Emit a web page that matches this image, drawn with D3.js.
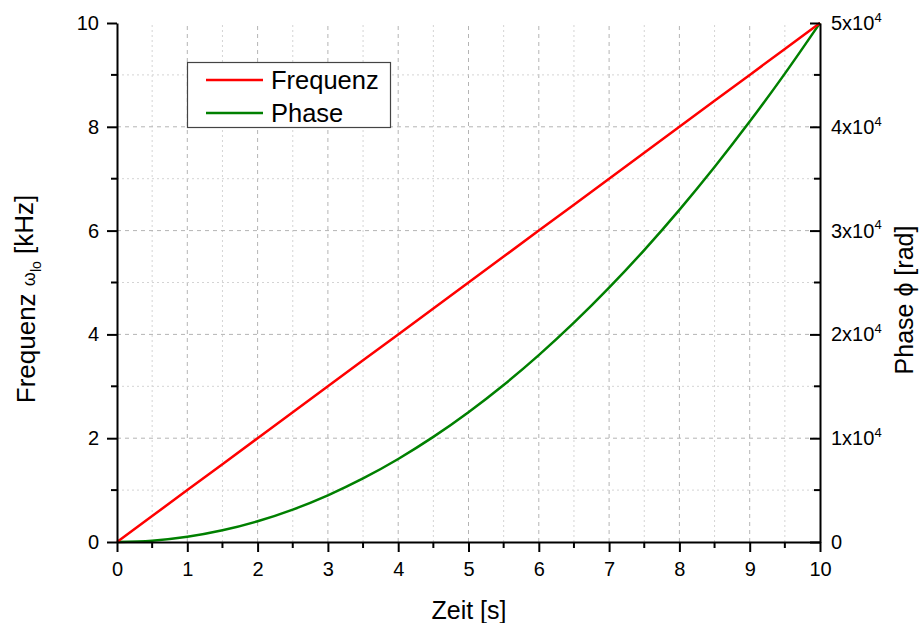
<!DOCTYPE html>
<html><head><meta charset="utf-8">
<script src="https://cdn.jsdelivr.net/npm/d3@7"></script>
<style>body{margin:0;background:#fff}svg{font-family:"Liberation Sans",Arial,sans-serif}</style>
</head><body><svg id="c" width="920" height="623"></svg>
<script>
const time = [0,0.5,1,1.5,2,2.5,3,3.5,4,4.5,5,5.5,6,6.5,7,7.5,8,8.5,9,9.5,10];
const frequenz = [0,0.5,1,1.5,2,2.5,3,3.5,4,4.5,5,5.5,6,6.5,7,7.5,8,8.5,9,9.5,10];
const phase = [0,125,500,1125,2000,3125,4500,6125,8000,10125,12500,15125,18000,21125,24500,28125,32000,36125,40500,45125,50000];
const xTicks = [0,1,2,3,4,5,6,7,8,9,10];
const yLeftTicks = [0,2,4,6,8,10];
const yRightTicks = [0,1,2,3,4,5];
const legendLabels = ["Frequenz","Phase"];
const colors = ["#ff0000","#008000"];

const svg = d3.select("#c");
const L=117,R=820,T=23,B=542;
const x = d3.scaleLinear().domain([0,10]).range([L,R]);
const y = d3.scaleLinear().domain([0,10]).range([B,T]);
const y2 = d3.scaleLinear().domain([0,50000]).range([B,T]);

// grid
const g = svg.append("g");
d3.range(0.5,10,1).forEach(v=>g.append("line").attr("x1",x(v)).attr("x2",x(v)).attr("y1",B).attr("y2",T).attr("stroke","#d4d4d4").attr("stroke-dasharray","2,3"));
d3.range(1,10,1).forEach(v=>g.append("line").attr("x1",x(v)).attr("x2",x(v)).attr("y1",B).attr("y2",T).attr("stroke","#b4b4b4").attr("stroke-dasharray","4,4"));
d3.range(1,10,2).forEach(v=>g.append("line").attr("y1",y(v)).attr("y2",y(v)).attr("x1",L).attr("x2",R).attr("stroke","#d4d4d4").attr("stroke-dasharray","2,3"));
d3.range(2,10,2).forEach(v=>g.append("line").attr("y1",y(v)).attr("y2",y(v)).attr("x1",L).attr("x2",R).attr("stroke","#b4b4b4").attr("stroke-dasharray","4,4"));

// curves
const lf = d3.line().x((d,i)=>x(time[i])).y(d=>y(d));
const lp = d3.line().x((d,i)=>x(time[i])).y(d=>y2(d)).curve(d3.curveMonotoneX);
svg.append("path").attr("d",lp(phase)).attr("fill","none").attr("stroke",colors[1]).attr("stroke-width",2.5);
svg.append("path").attr("d",lf(frequenz)).attr("fill","none").attr("stroke",colors[0]).attr("stroke-width",2.5);

// axes
function style(sel){sel.select(".domain").attr("stroke","#000").attr("stroke-width",2);sel.selectAll(".tick line").attr("stroke","#000").attr("stroke-width",2);sel.selectAll("text").attr("font-size",20).attr("fill","#000").attr("font-family","Liberation Sans, Arial, sans-serif");}
const minor = svg.append("g");
d3.range(0.5,10,1).forEach(v=>{
  minor.append("line").attr("x1",x(v)).attr("x2",x(v)).attr("y1",B).attr("y2",B+6).attr("stroke","#000").attr("stroke-width",2);
});
d3.range(1,10,2).forEach(v=>{
  minor.append("line").attr("x1",L).attr("x2",L-6).attr("y1",y(v)).attr("y2",y(v)).attr("stroke","#000").attr("stroke-width",2);
  minor.append("line").attr("x1",R).attr("x2",R-6).attr("y1",y(v)).attr("y2",y(v)).attr("stroke","#000").attr("stroke-width",2);
});
const ax = svg.append("g").attr("transform",`translate(0,${B})`).call(d3.axisBottom(x).tickValues(xTicks).tickSize(10).tickSizeOuter(0).tickPadding(10));
style(ax);
const ay = svg.append("g").attr("transform",`translate(${L},0)`).call(d3.axisLeft(y).tickValues(yLeftTicks).tickSize(10).tickSizeOuter(0).tickPadding(8));
style(ay);
const ay2 = svg.append("g").attr("transform",`translate(${R},0)`).call(d3.axisRight(y2).tickValues(yRightTicks.map(v=>v*10000)).tickSize(-10).tickSizeOuter(0).tickFormat(()=>""));
style(ay2);
ay2.selectAll(".tick").each(function(d,i){
  const t=d3.select(this).append("text").attr("x",11).attr("dy","0.32em").attr("text-anchor","start").attr("font-size",20).attr("fill","#000");
  const v=yRightTicks[i];
  if(v===0){t.text("0");}
  else{t.append("tspan").text(v+"x10");t.append("tspan").attr("font-size",13).attr("dy","-0.62em").text("4");}
});

// titles
svg.append("text").attr("x",469).attr("y",619).attr("text-anchor","middle").attr("font-size",25).text("Zeit [s]");
const lt = svg.append("text").attr("transform",`translate(35,299) rotate(-90)`).attr("text-anchor","middle").attr("font-size",26);
lt.append("tspan").text("Frequenz ");
lt.append("tspan").attr("font-size",18).text("ω");
lt.append("tspan").attr("font-size",14).attr("dy","0.4em").text("lo");
lt.append("tspan").attr("dy","-0.3em").text(" [kHz]");
svg.append("text").attr("transform",`translate(913,300) rotate(-90)`).attr("text-anchor","middle").attr("font-size",25).text("Phase ϕ [rad]");

// legend
const lg = svg.append("g");
lg.append("rect").attr("x",187.5).attr("y",62.5).attr("width",203).attr("height",65).attr("fill","#fff").attr("stroke","#444").attr("stroke-width",1.2);
legendLabels.forEach((lab,i)=>{
  const yy = 80+i*33;
  lg.append("line").attr("x1",206).attr("x2",263).attr("y1",yy).attr("y2",yy).attr("stroke",colors[i]).attr("stroke-width",2.5);
  lg.append("text").attr("x",271).attr("y",yy+9).attr("font-size",25.5).text(lab);
});
</script></body></html>
